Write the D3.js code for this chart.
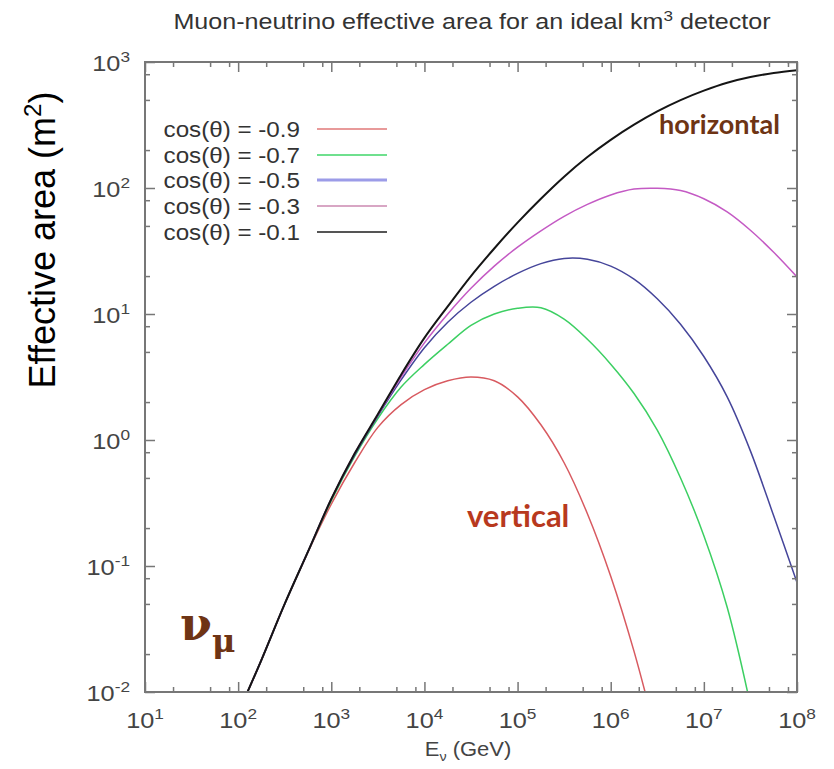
<!DOCTYPE html>
<html>
<head>
<meta charset="utf-8">
<script src="https://cdn.jsdelivr.net/npm/d3@7"></script>
<style>
  html, body { margin: 0; padding: 0; background: #fff; }
  svg { display: block; }
</style>
</head>
<body>
<svg id="chart" width="834" height="769"></svg>
<script>
// Neutrino energy grid (GeV)
const energies = [1.26e2, 1.78e2, 3.16e2, 5.62e2, 1e3, 1.78e3, 3.16e3, 5.62e3,
  1e4, 1.78e4, 3.16e4, 5.62e4, 1e5, 1.78e5, 3.16e5, 5.62e5,
  1e6, 1.78e6, 3.16e6, 5.62e6, 1e7, 1.78e7, 3.16e7, 5.62e7, 1e8];

// Effective area (m^2) for each zenith bin
const areaCosM09 = [0.010, 0.018, 0.050, 0.129, 0.31, 0.66, 1.26, 1.91,
  2.51, 2.95, 3.16, 2.95, 2.20, 1.32, 0.66, 0.26,
  0.083, 0.021, 0.0042, null, null, null, null, null, null];
const areaCosM07 = [0.010, 0.018, 0.050, 0.13, 0.33, 0.74, 1.48, 2.63,
  3.98, 5.75, 8.13, 10.0, 11.1, 11.2, 9.1, 6.3,
  4.0, 2.34, 1.20, 0.50, 0.174, 0.047, 0.0079, null, null];
const areaCosM05 = [0.010, 0.018, 0.050, 0.13, 0.34, 0.76, 1.55, 3.0,
  5.4, 8.6, 12.4, 16.6, 21.0, 25.1, 27.6, 27.2,
  24.0, 18.9, 13.2, 8.3, 4.6, 2.2, 0.82, 0.25, 0.074];
const areaCosM03 = [0.010, 0.018, 0.050, 0.13, 0.34, 0.78, 1.58, 3.16,
  5.9, 10.0, 16.0, 24.0, 33.9, 45.7, 59.6, 74.1,
  88.1, 98.0, 99.5, 95.5, 82.2, 64.6, 46.2, 30.9, 19.7];
const areaCosM01 = [0.010, 0.018, 0.050, 0.13, 0.34, 0.78, 1.6, 3.3,
  6.46, 11.5, 20.0, 33.1, 53.1, 82.2, 123, 176,
  241, 318, 405, 498, 592, 684, 759, 818, 861];

const seriesLabels = ["cos(\u03b8) = -0.9", "cos(\u03b8) = -0.7", "cos(\u03b8) = -0.5",
  "cos(\u03b8) = -0.3", "cos(\u03b8) = -0.1"];
const seriesValues = [areaCosM09, areaCosM07, areaCosM05, areaCosM03, areaCosM01];
const curveColors = ["#d85a60", "#3ccf62", "#45459a", "#c45ac4", "#151515"];
const legendColors = ["#e89a9a", "#6fe08e", "#9c9ce8", "#d8a6c4", "#555555"];

const xTickExponents = [1, 2, 3, 4, 5, 6, 7, 8];
const yTickExponents = [-2, -1, 0, 1, 2, 3];
const minorMantissas = [2, 5, 8];

const plot = { left: 145, right: 797, top: 62, bottom: 692 };

const svg = d3.select("#chart");
const x = d3.scaleLog().domain([1e1, 1e8]).range([plot.left, plot.right]);
const y = d3.scaleLog().domain([1e-2, 1e3]).range([plot.bottom, plot.top]);

const xMajors = xTickExponents.map(e => Math.pow(10, e));
const yMajors = yTickExponents.map(e => Math.pow(10, e));
const minorsFor = exps => exps.slice(0, -1).flatMap(e => minorMantissas.map(m => m * Math.pow(10, e)));
const xMinors = minorsFor(xTickExponents);
const yMinors = minorsFor(yTickExponents);

const axisColor = "#777";
const labelFont = "'Liberation Sans', Arial, sans-serif";
const stretch = "scale(1.15,1)";

// Curves, clipped to the frame
svg.append("clipPath").attr("id", "plotClip")
  .append("rect").attr("x", plot.left).attr("y", plot.top)
  .attr("width", plot.right - plot.left).attr("height", plot.bottom - plot.top);

const line = d3.line()
  .defined(d => d.a != null)
  .x(d => x(d.e)).y(d => y(d.a))
  .curve(d3.curveCatmullRom.alpha(0.5));

const curves = svg.append("g").attr("clip-path", "url(#plotClip)");
seriesValues.forEach((vals, i) => {
  const pts = energies.map((e, j) => ({ e, a: vals[j] }));
  curves.append("path").datum(pts)
    .attr("d", line)
    .attr("fill", "none")
    .attr("stroke", curveColors[i])
    .attr("stroke-width", i === 4 ? 2 : 1.5)
    .attr("stroke-linejoin", "round");
});

// Axes: inward ticks on all four sides
function tickAxis(axis, transform, values, size) {
  const g = svg.append("g").attr("transform", transform)
    .call(axis.tickValues(values).tickSize(size).tickFormat(""));
  g.select(".domain").remove();
  g.selectAll(".tick line").attr("stroke", axisColor).attr("stroke-width", 1.5);
  return g;
}
tickAxis(d3.axisBottom(x), `translate(0,${plot.bottom})`, xMajors, -10);
tickAxis(d3.axisBottom(x), `translate(0,${plot.bottom})`, xMinors, -5);
tickAxis(d3.axisTop(x), `translate(0,${plot.top})`, xMajors, -10);
tickAxis(d3.axisTop(x), `translate(0,${plot.top})`, xMinors, -5);
tickAxis(d3.axisLeft(y), `translate(${plot.left},0)`, yMajors, -10);
tickAxis(d3.axisLeft(y), `translate(${plot.left},0)`, yMinors, -5);
tickAxis(d3.axisRight(y), `translate(${plot.right},0)`, yMajors, -10);
tickAxis(d3.axisRight(y), `translate(${plot.right},0)`, yMinors, -5);

// Frame
svg.append("rect")
  .attr("x", plot.left).attr("y", plot.top)
  .attr("width", plot.right - plot.left).attr("height", plot.bottom - plot.top)
  .attr("fill", "none").attr("stroke", axisColor).attr("stroke-width", 2);

// Power-of-ten tick labels
function powerLabel(sel, exp) {
  sel.append("tspan").text("10");
  sel.append("tspan").text(exp).attr("dy", -9).attr("font-size", 15);
}
svg.append("g").selectAll("text").data(xTickExponents).join("text")
  .attr("transform", d => `translate(${x(Math.pow(10, d))},728) ${stretch}`)
  .attr("text-anchor", "middle")
  .attr("font-family", labelFont).attr("font-size", 22).attr("fill", "#444")
  .each(function (d) { powerLabel(d3.select(this), d); });

svg.append("g").selectAll("text").data(yTickExponents).join("text")
  .attr("transform", d => `translate(130,${y(Math.pow(10, d)) + 9}) ${stretch}`)
  .attr("text-anchor", "end")
  .attr("font-family", labelFont).attr("font-size", 22).attr("fill", "#444")
  .each(function (d) { powerLabel(d3.select(this), d); });

// Title
const title = svg.append("text")
  .attr("transform", `translate(472,29) scale(1.14,1)`)
  .attr("text-anchor", "middle")
  .attr("font-family", labelFont).attr("font-size", 22).attr("fill", "#333");
title.append("tspan").text("Muon-neutrino effective area for an ideal km");
title.append("tspan").text("3").attr("dy", -8).attr("font-size", 15);
title.append("tspan").text(" detector").attr("dy", 8);

// X axis title
const xTitle = svg.append("text")
  .attr("transform", `translate(468,756) scale(1.1,1)`)
  .attr("text-anchor", "middle")
  .attr("font-family", labelFont).attr("font-size", 20).attr("fill", "#444");
xTitle.append("tspan").text("E");
xTitle.append("tspan").text("\u03bd").attr("dy", 5).attr("font-size", 13);
xTitle.append("tspan").text(" (GeV)").attr("dy", -5);

// Y axis title
const yTitle = svg.append("text")
  .attr("transform", "translate(55,240) rotate(-90)")
  .attr("text-anchor", "middle")
  .attr("font-family", labelFont).attr("font-size", 36).attr("fill", "#000");
yTitle.append("tspan").text("Effective area (m");
yTitle.append("tspan").text("2").attr("dy", -14).attr("font-size", 24);
yTitle.append("tspan").text(")").attr("dy", 14);

// Legend
const legendRows = [129, 155, 180, 206, 232];
const legend = svg.append("g");
seriesLabels.forEach((lab, i) => {
  legend.append("text")
    .attr("transform", `translate(300,${legendRows[i] + 8}) scale(1.1,1)`)
    .attr("text-anchor", "end")
    .attr("font-family", labelFont).attr("font-size", 22).attr("fill", "#333")
    .text(lab);
  legend.append("line")
    .attr("x1", 317).attr("x2", 387)
    .attr("y1", legendRows[i]).attr("y2", legendRows[i])
    .attr("stroke", legendColors[i])
    .attr("stroke-width", i === 2 ? 3 : 1.8);
});

// Annotations
const noteFont = "Lato, 'Open Sans', sans-serif";
svg.append("text").attr("x", 659).attr("y", 134)
  .attr("font-family", noteFont).attr("font-weight", "bold")
  .attr("font-size", 27).attr("fill", "#6e3414").text("horizontal");
svg.append("text").attr("x", 467).attr("y", 527)
  .attr("font-family", noteFont).attr("font-weight", "bold")
  .attr("font-size", 31).attr("fill", "#b8391e").text("vertical");

const nu = svg.append("text").attr("x", 180).attr("y", 640)
  .attr("font-family", "'DejaVu Serif', 'Liberation Serif', serif")
  .attr("font-weight", "bold")
  .attr("fill", "#6e3414");
nu.append("tspan").text("\u03bd").attr("font-size", 46);
nu.append("tspan").text("\u03bc").attr("font-size", 32).attr("dy", 12);
</script>
</body>
</html>
